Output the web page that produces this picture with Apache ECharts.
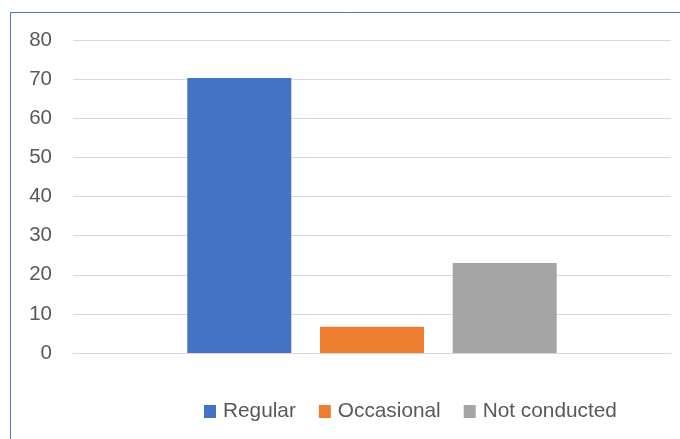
<!DOCTYPE html>
<html>
<head>
<meta charset="utf-8">
<script src="https://cdn.jsdelivr.net/npm/echarts@6/dist/echarts.min.js"></script>
<style>
html,body{margin:0;padding:0;background:#fff;}
#chart{width:680px;height:439px;}
</style>
</head>
<body>
<div id="chart"></div>
<script>
var categories = [''];
var seriesNames = ['Regular', 'Occasional', 'Not conducted'];
var regularValues = [70.3];
var occasionalValues = [6.7];
var notConductedValues = [23.0];
var yTicks = { min: 0, max: 80, interval: 10 };

var colors = ['#4472C4', '#ED7D31', '#A5A5A5'];
var seriesData = [regularValues, occasionalValues, notConductedValues];

var chart = echarts.init(document.getElementById('chart'), null, {renderer: 'canvas'});
chart.setOption({
  animation: false,
  backgroundColor: '#ffffff',
  graphic: [{
    type: 'rect',
    shape: {x: 10.5, y: 12.5, width: 800, height: 600},
    style: {fill: 'none', stroke: '#4f76c7', lineWidth: 1},
    silent: true,
    z: -1
  }],
  grid: {left: 73, right: 9, top: 40, bottom: 86, containLabel: false},
  legend: {
    left: 204,
    top: 401,
    padding: 0,
    itemWidth: 12,
    itemHeight: 13,
    itemGap: 23,
    icon: 'rect',
    textStyle: {fontFamily: 'Liberation Sans', fontSize: 20.8, color: '#595959', padding: [0, 0, 0, 2]},
    data: seriesNames
  },
  xAxis: {
    type: 'category',
    data: categories,
    axisTick: {show: false},
    axisLabel: {show: false},
    axisLine: {lineStyle: {color: '#d9d9d9', width: 1}}
  },
  yAxis: {
    type: 'value',
    min: yTicks.min,
    max: yTicks.max,
    interval: yTicks.interval,
    axisLine: {show: false},
    axisTick: {show: false},
    axisLabel: {fontFamily: 'Liberation Sans', fontSize: 20.5, color: '#595959', margin: 21},
    splitLine: {lineStyle: {color: '#d9d9d9', width: 1}}
  },
  series: seriesNames.map(function(name, i){
    return {
      name: name,
      type: 'bar',
      data: seriesData[i],
      barWidth: 104,
      barGap: '27.6%',
      itemStyle: {color: colors[i]}
    };
  })
});
</script>
</body>
</html>
